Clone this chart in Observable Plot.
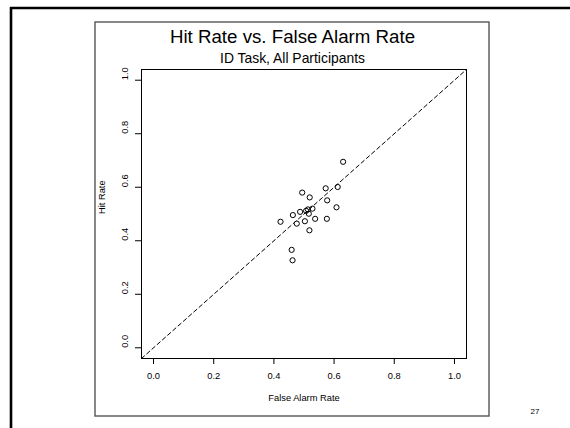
<!DOCTYPE html>
<html>
<head>
<meta charset="utf-8">
<script src="https://cdn.jsdelivr.net/npm/d3@7"></script>
<script src="https://cdn.jsdelivr.net/npm/@observablehq/plot@0.6"></script>
<style>
  html, body { margin: 0; padding: 0; background: white; }
  #chart { width: 570px; height: 428px; }
</style>
</head>
<body>
<div id="chart"></div>
<script>
const title = "Hit Rate vs. False Alarm Rate";
const subtitle = "ID Task, All Participants";
const xLabel = "False Alarm Rate";
const yLabel = "Hit Rate";
const pageNumber = "27";

const xTicks = [0, 0.2, 0.4, 0.6, 0.8, 1.0];
const yTicks = [0, 0.2, 0.4, 0.6, 0.8, 1.0];
const axisDomain = [-0.04, 1.04];

const falseAlarm = [0.630, 0.494, 0.519, 0.572, 0.612, 0.577, 0.608, 0.528, 0.507, 0.513,
                    0.487, 0.463, 0.516, 0.422, 0.476, 0.503, 0.537, 0.576, 0.518, 0.459, 0.462];
const hitRate    = [0.695, 0.580, 0.562, 0.596, 0.601, 0.551, 0.525, 0.520, 0.512, 0.517,
                    0.508, 0.496, 0.501, 0.471, 0.464, 0.473, 0.482, 0.482, 0.439, 0.366, 0.327];

const points = falseAlarm.map((x, i) => ({x, y: hitRate[i]}));
const diagonal = axisDomain.map(v => ({x: v, y: v}));
const fmt = d3.format(".1f");
const font = "'Liberation Sans', Arial, Helvetica, sans-serif";

const plot = Plot.plot({
  width: 570,
  height: 428,
  marginLeft: 141,
  marginRight: 104,
  marginTop: 69,
  marginBottom: 70,
  x: {domain: axisDomain},
  y: {domain: axisDomain},
  style: {fontFamily: font, background: "white", color: "black", overflow: "visible"},
  marks: [
    Plot.frame({stroke: "black", strokeWidth: 1}),
    Plot.line(diagonal, {x: "x", y: "y", stroke: "black", strokeWidth: 1, strokeDasharray: "4,3"}),
    Plot.dot(points, {x: "x", y: "y", r: 2.6, stroke: "black", strokeWidth: 1, fill: "none"}),
    Plot.axisX({ticks: xTicks, tickSize: 6, tickFormat: () => "", label: null, stroke: "black"}),
    Plot.axisY({ticks: yTicks, tickSize: 6, tickFormat: () => "", label: null, stroke: "black"}),
    Plot.text(xTicks, {x: d => d, frameAnchor: "bottom", lineAnchor: "middle", dy: 17.5, text: d => fmt(d), fontSize: 9.3, fill: "black"}),
    Plot.text(yTicks, {y: d => d, frameAnchor: "left", lineAnchor: "middle", dx: -16, rotate: -90, text: d => fmt(d), fontSize: 9.3, fill: "black"}),
    Plot.text([xLabel], {frameAnchor: "bottom", lineAnchor: "middle", dy: 40, text: d => d, fontSize: 9.3, fill: "black"}),
    Plot.text([yLabel], {frameAnchor: "left", lineAnchor: "middle", dx: -39.5, rotate: -90, text: d => d, fontSize: 9.3, fill: "black"}),
    Plot.text([title], {frameAnchor: "top", lineAnchor: "middle", dx: -11.5, dy: -32, text: d => d, fontSize: 18.7, fill: "black"}),
    Plot.text([subtitle], {frameAnchor: "top", lineAnchor: "middle", dx: -11.5, dy: -11, text: d => d, fontSize: 13.9, fill: "black"}),
    Plot.text([pageNumber], {frameAnchor: "bottom-right", lineAnchor: "middle", dx: 68.5, dy: 53, textAnchor: "middle", text: d => d, fontSize: 8, fill: "black"})
  ]
});

const svg = d3.select(plot);
// slide decoration: outer chart box and slide border
svg.insert("rect", ":first-child")
  .attr("x", 95).attr("y", 22).attr("width", 394).attr("height", 394)
  .attr("fill", "none").attr("stroke", "#555").attr("stroke-width", 1.4);
svg.append("line").attr("x1", 10).attr("x2", 570).attr("y1", 8).attr("y2", 8)
  .attr("stroke", "black").attr("stroke-width", 2.6);
svg.append("line").attr("x1", 11).attr("x2", 11).attr("y1", 7).attr("y2", 428)
  .attr("stroke", "black").attr("stroke-width", 2.6);

document.getElementById("chart").appendChild(plot);
</script>
</body>
</html>
